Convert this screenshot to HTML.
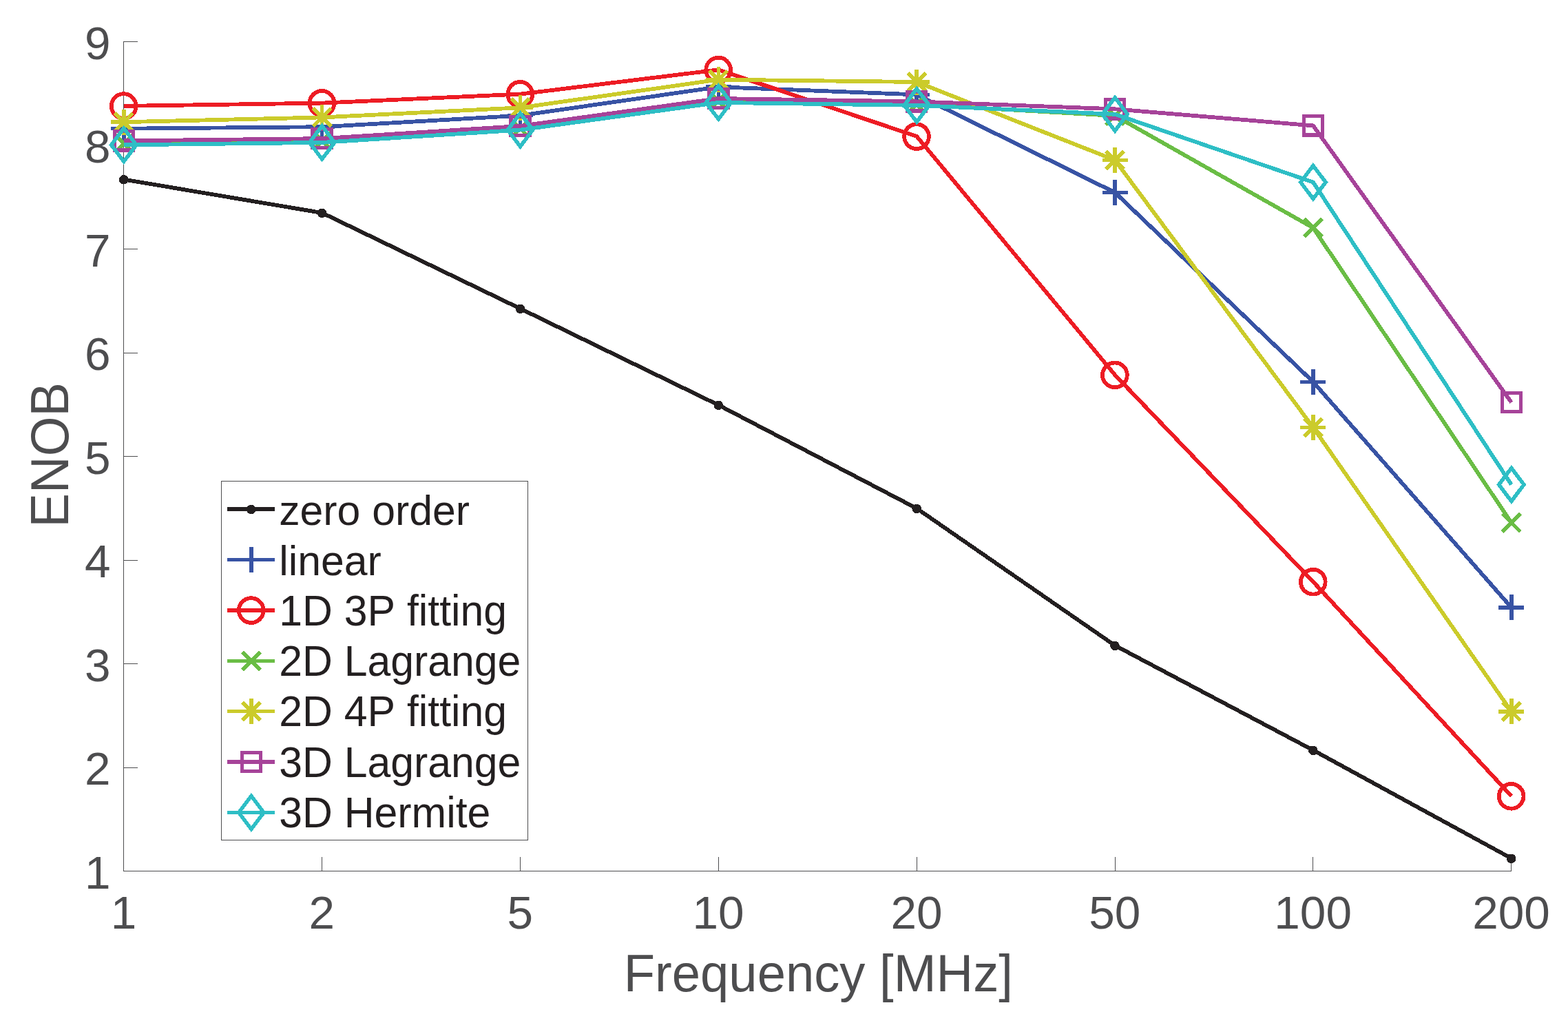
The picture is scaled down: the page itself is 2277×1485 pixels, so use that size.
<!DOCTYPE html>
<html lang="en">
<head>
<meta charset="utf-8">
<title>ENOB vs Frequency</title>
<style>
html,body{margin:0;padding:0;background:#fff;}
body{width:2277px;height:1485px;overflow:hidden;}
svg{display:block;}
text{font-family:"Liberation Sans",sans-serif;font-kerning:none;font-variant-ligatures:none;}
</style>
</head>
<body>
<svg role="img" aria-label="ENOB versus Frequency [MHz]" width="2277" height="1485" viewBox="0 0 2277 1485" shape-rendering="crispEdges">
<rect width="2277" height="1485" fill="#fff"/>
<g fill="#4d4d4f">
<rect x="179" y="1264" width="2016" height="1"/>
<rect x="179" y="60" width="1" height="1205"/>
<rect x="179" y="1244" width="1" height="21"/>
<rect x="467" y="1244" width="1" height="21"/>
<rect x="755" y="1244" width="1" height="21"/>
<rect x="1043" y="1244" width="1" height="21"/>
<rect x="1331" y="1244" width="1" height="21"/>
<rect x="1619" y="1244" width="1" height="21"/>
<rect x="1906" y="1244" width="1" height="21"/>
<rect x="2194" y="1244" width="1" height="21"/>
<rect x="179" y="1264" width="21" height="1"/>
<rect x="179" y="1114" width="21" height="1"/>
<rect x="179" y="963" width="21" height="1"/>
<rect x="179" y="813" width="21" height="1"/>
<rect x="179" y="662" width="21" height="1"/>
<rect x="179" y="512" width="21" height="1"/>
<rect x="179" y="361" width="21" height="1"/>
<rect x="179" y="211" width="21" height="1"/>
<rect x="179" y="60" width="21" height="1"/>
</g>
<g font-size="67.5" fill="#4d4d4f" text-anchor="middle">
<text x="179.5" y="1347.6">1</text>
<text x="467.36" y="1347.6">2</text>
<text x="755.21" y="1347.6">5</text>
<text x="1043.07" y="1347.6">10</text>
<text x="1330.93" y="1347.6">20</text>
<text x="1618.79" y="1347.6">50</text>
<text x="1906.64" y="1347.6">100</text>
<text x="2194.5" y="1347.6">200</text>
</g>
<g font-size="67.5" fill="#4d4d4f" text-anchor="end">
<text x="160.5" y="1289.6">1</text>
<text x="160.5" y="1139.1">2</text>
<text x="160.5" y="988.6">3</text>
<text x="160.5" y="838.1">4</text>
<text x="160.5" y="687.6">5</text>
<text x="160.5" y="537.1">6</text>
<text x="160.5" y="386.6">7</text>
<text x="160.5" y="236.1">8</text>
<text x="160.5" y="85.6">9</text>
</g>
<text transform="translate(1188.3 1439.1) scale(1 1.015)" font-size="74.25" fill="#4d4d4f" text-anchor="middle">Frequency [MHz]</text>
<text transform="translate(99.2 660.3) rotate(-90) scale(1 1.045)" font-size="74.25" fill="#4d4d4f" text-anchor="middle">ENOB</text>
<g>
<polyline points="179.8,260.5 467.66,309 755.51,448 1043.37,588 1331.23,738 1619.09,937 1906.94,1089 2194.8,1246" fill="none" stroke="#231f20" stroke-width="5.8" stroke-linejoin="round" stroke-linecap="butt"/>
<circle cx="179.7" cy="260.8" r="6.8" fill="#231f20"/>
<circle cx="467.56" cy="309.3" r="6.8" fill="#231f20"/>
<circle cx="755.41" cy="448.3" r="6.8" fill="#231f20"/>
<circle cx="1043.27" cy="588.3" r="6.8" fill="#231f20"/>
<circle cx="1331.13" cy="738.3" r="6.8" fill="#231f20"/>
<circle cx="1618.99" cy="937.3" r="6.8" fill="#231f20"/>
<circle cx="1906.84" cy="1089.3" r="6.8" fill="#231f20"/>
<circle cx="2194.7" cy="1246.3" r="6.8" fill="#231f20"/>
</g>
<g>
<polyline points="179.8,186.7 467.66,184.2 755.51,167.7 1043.37,126.2 1331.23,137.4 1619.09,279.4 1906.94,554.4 2194.8,881.9" fill="none" stroke="#3853a4" stroke-width="5.8" stroke-linejoin="round" stroke-linecap="butt"/>
<path d="M161.3 186.7H198.3M179.8 168.2V205.2" stroke="#3853a4" stroke-width="5.5" fill="none"/>
<path d="M449.16 184.2H486.16M467.66 165.7V202.7" stroke="#3853a4" stroke-width="5.5" fill="none"/>
<path d="M737.01 167.7H774.01M755.51 149.2V186.2" stroke="#3853a4" stroke-width="5.5" fill="none"/>
<path d="M1024.87 126.2H1061.87M1043.37 107.7V144.7" stroke="#3853a4" stroke-width="5.5" fill="none"/>
<path d="M1312.73 137.4H1349.73M1331.23 118.9V155.9" stroke="#3853a4" stroke-width="5.5" fill="none"/>
<path d="M1600.59 279.4H1637.59M1619.09 260.9V297.9" stroke="#3853a4" stroke-width="5.5" fill="none"/>
<path d="M1888.44 554.4H1925.44M1906.94 535.9V572.9" stroke="#3853a4" stroke-width="5.5" fill="none"/>
<path d="M2176.3 881.9H2213.3M2194.8 863.4V900.4" stroke="#3853a4" stroke-width="5.5" fill="none"/>
</g>
<g>
<polyline points="179.8,153.9 467.66,149.6 755.51,136.6 1043.37,101.3 1331.23,197.9 1619.09,544.2 1906.94,844.5 2194.8,1155.6" fill="none" stroke="#ed1c24" stroke-width="5.8" stroke-linejoin="round" stroke-linecap="butt"/>
<circle cx="179.6" cy="154.1" r="17.9" stroke="#ed1c24" stroke-width="5.8" fill="none"/>
<circle cx="467.46" cy="149.8" r="17.9" stroke="#ed1c24" stroke-width="5.8" fill="none"/>
<circle cx="755.31" cy="136.8" r="17.9" stroke="#ed1c24" stroke-width="5.8" fill="none"/>
<circle cx="1043.17" cy="101.5" r="17.9" stroke="#ed1c24" stroke-width="5.8" fill="none"/>
<circle cx="1331.03" cy="198.1" r="17.9" stroke="#ed1c24" stroke-width="5.8" fill="none"/>
<circle cx="1618.89" cy="544.4" r="17.9" stroke="#ed1c24" stroke-width="5.8" fill="none"/>
<circle cx="1906.74" cy="844.7" r="17.9" stroke="#ed1c24" stroke-width="5.8" fill="none"/>
<circle cx="2194.6" cy="1155.8" r="17.9" stroke="#ed1c24" stroke-width="5.8" fill="none"/>
</g>
<g>
<polyline points="179.8,208.4 467.66,204.5 755.51,186.6 1043.37,146.5 1331.23,151.6 1619.09,168 1906.94,330.7 2194.8,758.8" fill="none" stroke="#6abd45" stroke-width="5.8" stroke-linejoin="round" stroke-linecap="butt"/>
<path d="M166.72 195.32L192.88 221.48M166.72 221.48L192.88 195.32" stroke="#6abd45" stroke-width="5.5" fill="none"/>
<path d="M454.58 191.42L480.74 217.58M454.58 217.58L480.74 191.42" stroke="#6abd45" stroke-width="5.5" fill="none"/>
<path d="M742.43 173.52L768.6 199.68M742.43 199.68L768.6 173.52" stroke="#6abd45" stroke-width="5.5" fill="none"/>
<path d="M1030.29 133.42L1056.45 159.58M1030.29 159.58L1056.45 133.42" stroke="#6abd45" stroke-width="5.5" fill="none"/>
<path d="M1318.15 138.52L1344.31 164.68M1318.15 164.68L1344.31 138.52" stroke="#6abd45" stroke-width="5.5" fill="none"/>
<path d="M1606 154.92L1632.17 181.08M1606 181.08L1632.17 154.92" stroke="#6abd45" stroke-width="5.5" fill="none"/>
<path d="M1893.86 317.62L1920.02 343.78M1893.86 343.78L1920.02 317.62" stroke="#6abd45" stroke-width="5.5" fill="none"/>
<path d="M2181.72 745.72L2207.88 771.88M2181.72 771.88L2207.88 745.72" stroke="#6abd45" stroke-width="5.5" fill="none"/>
</g>
<g>
<polyline points="179.8,177.2 467.66,170.4 755.51,156.3 1043.37,115.6 1331.23,119 1619.09,232.4 1906.94,620.5 2194.8,1032.8" fill="none" stroke="#cbcb2b" stroke-width="5.8" stroke-linejoin="round" stroke-linecap="butt"/>
<path d="M161.3 177.2H198.3M179.8 158.7V195.7M166.72 164.12L192.88 190.28M166.72 190.28L192.88 164.12" stroke="#cbcb2b" stroke-width="5.5" fill="none"/>
<path d="M449.16 170.4H486.16M467.66 151.9V188.9M454.58 157.32L480.74 183.48M454.58 183.48L480.74 157.32" stroke="#cbcb2b" stroke-width="5.5" fill="none"/>
<path d="M737.01 156.3H774.01M755.51 137.8V174.8M742.43 143.22L768.6 169.38M742.43 169.38L768.6 143.22" stroke="#cbcb2b" stroke-width="5.5" fill="none"/>
<path d="M1024.87 115.6H1061.87M1043.37 97.1V134.1M1030.29 102.52L1056.45 128.68M1030.29 128.68L1056.45 102.52" stroke="#cbcb2b" stroke-width="5.5" fill="none"/>
<path d="M1312.73 119H1349.73M1331.23 100.5V137.5M1318.15 105.92L1344.31 132.08M1318.15 132.08L1344.31 105.92" stroke="#cbcb2b" stroke-width="5.5" fill="none"/>
<path d="M1600.59 232.4H1637.59M1619.09 213.9V250.9M1606 219.32L1632.17 245.48M1606 245.48L1632.17 219.32" stroke="#cbcb2b" stroke-width="5.5" fill="none"/>
<path d="M1888.44 620.5H1925.44M1906.94 602V639M1893.86 607.42L1920.02 633.58M1893.86 633.58L1920.02 607.42" stroke="#cbcb2b" stroke-width="5.5" fill="none"/>
<path d="M2176.3 1032.8H2213.3M2194.8 1014.3V1051.3M2181.72 1019.72L2207.88 1045.88M2181.72 1045.88L2207.88 1019.72" stroke="#cbcb2b" stroke-width="5.5" fill="none"/>
</g>
<g>
<polyline points="179.8,204.4 467.66,201.1 755.51,182.9 1043.37,143 1331.23,147.4 1619.09,158.3 1906.94,182.4 2194.8,584.1" fill="none" stroke="#a64399" stroke-width="5.8" stroke-linejoin="round" stroke-linecap="butt"/>
<rect x="166.2" y="190.8" width="27.2" height="27.2" stroke="#a64399" stroke-width="5.3" fill="none"/>
<rect x="454.06" y="187.5" width="27.2" height="27.2" stroke="#a64399" stroke-width="5.3" fill="none"/>
<rect x="741.91" y="169.3" width="27.2" height="27.2" stroke="#a64399" stroke-width="5.3" fill="none"/>
<rect x="1029.77" y="129.4" width="27.2" height="27.2" stroke="#a64399" stroke-width="5.3" fill="none"/>
<rect x="1317.63" y="133.8" width="27.2" height="27.2" stroke="#a64399" stroke-width="5.3" fill="none"/>
<rect x="1605.49" y="144.7" width="27.2" height="27.2" stroke="#a64399" stroke-width="5.3" fill="none"/>
<rect x="1893.34" y="168.8" width="27.2" height="27.2" stroke="#a64399" stroke-width="5.3" fill="none"/>
<rect x="2181.2" y="570.5" width="27.2" height="27.2" stroke="#a64399" stroke-width="5.3" fill="none"/>
</g>
<g>
<polyline points="179.8,210.4 467.66,206.9 755.51,188.6 1043.37,148.9 1331.23,152.9 1619.09,165.8 1906.94,264.5 2194.8,703.5" fill="none" stroke="#2ebec5" stroke-width="5.8" stroke-linejoin="round" stroke-linecap="butt"/>
<path d="M179.8 186.3L198 210.4L179.8 234.5L161.6 210.4Z" stroke="#2ebec5" stroke-width="5.5" fill="none" stroke-miterlimit="10"/>
<path d="M467.66 182.8L485.86 206.9L467.66 231L449.46 206.9Z" stroke="#2ebec5" stroke-width="5.5" fill="none" stroke-miterlimit="10"/>
<path d="M755.51 164.5L773.71 188.6L755.51 212.7L737.31 188.6Z" stroke="#2ebec5" stroke-width="5.5" fill="none" stroke-miterlimit="10"/>
<path d="M1043.37 124.8L1061.57 148.9L1043.37 173L1025.17 148.9Z" stroke="#2ebec5" stroke-width="5.5" fill="none" stroke-miterlimit="10"/>
<path d="M1331.23 128.8L1349.43 152.9L1331.23 177L1313.03 152.9Z" stroke="#2ebec5" stroke-width="5.5" fill="none" stroke-miterlimit="10"/>
<path d="M1619.09 141.7L1637.29 165.8L1619.09 189.9L1600.89 165.8Z" stroke="#2ebec5" stroke-width="5.5" fill="none" stroke-miterlimit="10"/>
<path d="M1906.94 240.4L1925.14 264.5L1906.94 288.6L1888.74 264.5Z" stroke="#2ebec5" stroke-width="5.5" fill="none" stroke-miterlimit="10"/>
<path d="M2194.8 679.4L2213 703.5L2194.8 727.6L2176.6 703.5Z" stroke="#2ebec5" stroke-width="5.5" fill="none" stroke-miterlimit="10"/>
</g>
<rect x="321.5" y="698.5" width="445" height="521" fill="#fff" stroke="#4d4d4f" stroke-width="1"/>
<path d="M330 739.1H399" stroke="#231f20" stroke-width="5.4" fill="none"/>
<circle cx="364.8" cy="739.4" r="6.8" fill="#231f20"/>
<text x="405.2" y="761.7" font-size="60.75" fill="#231f20">zero order</text>
<path d="M330 812.5H399" stroke="#3853a4" stroke-width="5.4" fill="none"/>
<path d="M346.4 812.5H383.4M364.9 794V831" stroke="#3853a4" stroke-width="5.5" fill="none"/>
<text x="405.2" y="835.1" font-size="60.75" fill="#231f20">linear</text>
<path d="M330 885.9H399" stroke="#ed1c24" stroke-width="5.4" fill="none"/>
<circle cx="364.7" cy="886.1" r="17.9" stroke="#ed1c24" stroke-width="5.8" fill="none"/>
<text transform="translate(405.2 907.5) scale(1 1.03)" font-size="60.75" fill="#231f20">1D 3P fitting</text>
<path d="M330 959.3H399" stroke="#6abd45" stroke-width="5.4" fill="none"/>
<path d="M351.82 946.22L377.98 972.38M351.82 972.38L377.98 946.22" stroke="#6abd45" stroke-width="5.5" fill="none"/>
<text transform="translate(405.2 980.9) scale(1 1.03)" font-size="60.75" fill="#231f20">2D Lagrange</text>
<path d="M330 1032.7H399" stroke="#cbcb2b" stroke-width="5.4" fill="none"/>
<path d="M346.4 1032.7H383.4M364.9 1014.2V1051.2M351.82 1019.62L377.98 1045.78M351.82 1045.78L377.98 1019.62" stroke="#cbcb2b" stroke-width="5.5" fill="none"/>
<text transform="translate(405.2 1054.3) scale(1 1.03)" font-size="60.75" fill="#231f20">2D 4P fitting</text>
<path d="M330 1106.1H399" stroke="#a64399" stroke-width="5.4" fill="none"/>
<rect x="351.3" y="1092.5" width="27.2" height="27.2" stroke="#a64399" stroke-width="5.3" fill="none"/>
<text transform="translate(405.2 1127.7) scale(1 1.03)" font-size="60.75" fill="#231f20">3D Lagrange</text>
<path d="M330 1179.5H399" stroke="#2ebec5" stroke-width="5.4" fill="none"/>
<path d="M364.9 1155.4L383.1 1179.5L364.9 1203.6L346.7 1179.5Z" stroke="#2ebec5" stroke-width="5.5" fill="none" stroke-miterlimit="10"/>
<text transform="translate(405.2 1201.1) scale(1 1.03)" font-size="60.75" fill="#231f20">3D Hermite</text>
</svg>
</body>
</html>
